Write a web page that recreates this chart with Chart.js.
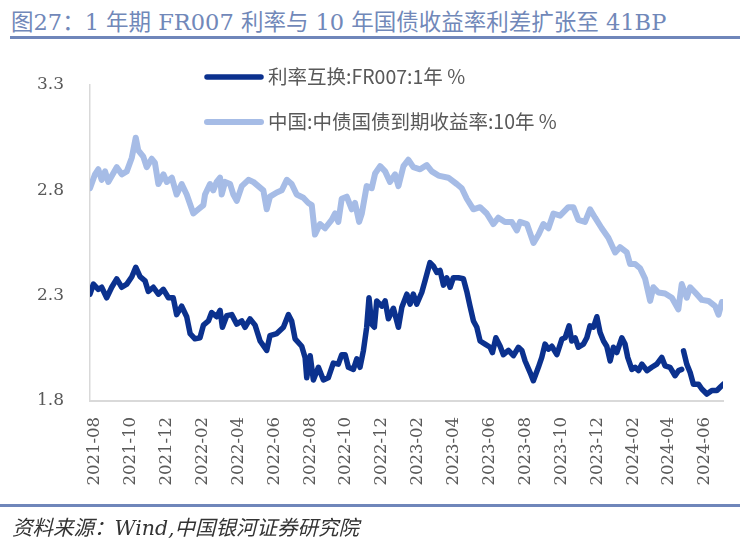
<!DOCTYPE html>
<html>
<head>
<meta charset="utf-8">
<style>
    body { margin: 0; background: #fff; }
    #page { position: relative; width: 753px; height: 544px; overflow: hidden; }
    #title {
        position: absolute; left: 11px; top: 4px;
        font: 22.5px "DejaVu Serif", "Noto Sans CJK SC", serif;
        color: #7188b9; white-space: nowrap;
    }
    .bar { position: absolute; height: 3px; background: #6f86ba; }
    #source {
        position: absolute; left: 12px; top: 511px;
        font: italic 20.5px "DejaVu Serif", "Noto Sans CJK SC", serif;
        color: #333; white-space: nowrap;
    }
    #wrap { position: absolute; left: 0; top: 0; width: 753px; height: 544px; }
</style>
</head>
<body>
<div id="page">
    <div id="title">图27：1 年期 FR007 利率与 10 年国债收益率利差扩张至 41BP</div>
    <div class="bar" style="left:10px; top:36px; width:730px;"></div>
    <div id="wrap"><canvas id="chart"></canvas></div>
    <div class="bar" style="left:0; top:504px; width:740px;"></div>
    <div id="source">资料来源：Wind,中国银河证券研究院</div>
</div>

<script src="https://cdn.jsdelivr.net/npm/chart.js@4"></script>
<script>

    // x values are months counted from 2021-08-01
    const tickMonths = [0, 2, 4, 6, 8, 10, 12, 14, 16, 18, 20, 22, 24, 26, 28, 30, 32, 34];
    const tickLabels = ['2021-08', '2021-10', '2021-12', '2022-02', '2022-04', '2022-06',
        '2022-08', '2022-10', '2022-12', '2023-02', '2023-04', '2023-06',
        '2023-08', '2023-10', '2023-12', '2024-02', '2024-04', '2024-06'];

    const seriesNames = ['利率互换:FR007:1年 %', '中国:中债国债到期收益率:10年 %'];

    const fr007Months = [
        -0.28, -0.09, 0.18, 0.37, 0.65, 0.93, 1.21, 1.49, 1.77, 2.05, 2.27, 2.51, 2.79, 2.97, 3.25, 3.53,
        3.81, 4.09, 4.36, 4.55, 4.83, 5.11, 5.30, 5.57, 5.85, 6.04, 6.32, 6.50, 6.78, 6.97, 7.10, 7.34,
        7.62, 7.90, 8.18, 8.36, 8.64, 8.92, 9.20, 9.57, 9.75, 10.13, 10.50, 10.78, 10.96, 11.15, 11.52, 11.71,
        11.80, 11.99, 12.17, 12.45, 12.73, 13.00, 13.28, 13.56, 13.75, 13.94, 14.12, 14.40, 14.59, 14.77, 14.96, 15.14,
        15.27, 15.42, 15.57, 15.70, 15.98, 16.17, 16.35, 16.63, 16.91, 17.10, 17.38, 17.56, 17.74, 17.93, 18.21, 18.39,
        18.67, 18.86, 19.05, 19.23, 19.42, 19.60, 19.79, 19.97, 20.25, 20.53, 20.72, 20.90, 21.09, 21.28, 21.46, 21.74,
        22.02, 22.15, 22.34, 22.58, 22.76, 23.04, 23.32, 23.60, 23.79, 23.97, 24.25, 24.43, 24.71, 24.90, 25.08, 25.27,
        25.46, 25.74, 26.02, 26.20, 26.42, 26.57, 26.76, 26.94, 27.22, 27.41, 27.59, 27.78, 27.97, 28.15, 28.34, 28.52,
        28.71, 28.89, 29.08, 29.36, 29.54, 29.69, 29.92, 30.10, 30.29, 30.48, 30.76, 31.03, 31.31, 31.59, 31.77, 32.05,
        32.33, 32.52, 32.70, 32.75, 32.80, 32.98, 33.17, 33.35, 33.63, 33.82, 34.10, 34.38, 34.66, 34.84, 35.02];
    const fr007Values = [
        2.307, 2.355, 2.33, 2.34, 2.29, 2.34, 2.38, 2.34, 2.355, 2.39, 2.435, 2.39, 2.37, 2.32, 2.34, 2.307,
        2.33, 2.29, 2.29, 2.21, 2.25, 2.20, 2.12, 2.095, 2.10, 2.16, 2.18, 2.22, 2.20, 2.23, 2.15, 2.205,
        2.21, 2.165, 2.18, 2.15, 2.19, 2.16, 2.085, 2.04, 2.11, 2.12, 2.15, 2.21, 2.18, 2.095, 2.06, 2.005,
        1.91, 2.015, 1.90, 1.96, 1.90, 1.91, 1.98, 1.975, 2.02, 2.02, 1.96, 1.95, 2.00, 1.96, 2.04, 2.15,
        2.29, 2.165, 2.15, 2.275, 2.25, 2.275, 2.19, 2.24, 2.15, 2.245, 2.307, 2.26, 2.307, 2.26, 2.315, 2.37,
        2.457, 2.44, 2.41, 2.42, 2.35, 2.385, 2.34, 2.385, 2.385, 2.38, 2.32, 2.25, 2.18, 2.15, 2.085, 2.07,
        2.055, 2.03, 2.10, 2.06, 2.02, 2.04, 2.015, 2.055, 2.04, 1.99, 1.935, 1.896, 1.96, 2.007, 2.07, 2.046,
        2.06, 2.02, 2.094, 2.10, 2.157, 2.085, 2.10, 2.055, 2.07, 2.10, 2.157, 2.15, 2.20, 2.125, 2.085, 2.06,
        1.99, 2.055, 2.03, 2.10, 2.07, 2.007, 1.95, 1.96, 1.944, 1.975, 1.944, 1.96, 1.975, 2.007, 1.967, 1.96,
        1.92, 1.944, 1.95, null, 2.038, 1.975, 1.935, 1.88, 1.88, 1.857, 1.833, 1.85, 1.85, 1.865, 1.88];

    const cgb10yMonths = [
        -0.28, 0, 0.18, 0.37, 0.56, 0.74, 1.21, 1.49, 1.77, 2.05, 2.27, 2.41, 2.69, 2.88, 3.16, 3.34,
        3.53, 3.81, 4.00, 4.28, 4.55, 4.83, 5.11, 5.48, 5.76, 6.04, 6.13, 6.41, 6.59, 6.78, 6.97, 7.06,
        7.25, 7.53, 7.71, 7.90, 8.18, 8.55, 8.82, 9.10, 9.38, 9.57, 9.75, 10.13, 10.41, 10.69, 10.96, 11.24,
        11.61, 11.89, 12.08, 12.26, 12.54, 12.82, 13.19, 13.38, 13.56, 13.75, 14.03, 14.31, 14.49, 14.72, 14.87, 15.14,
        15.42, 15.61, 15.89, 16.17, 16.44, 16.72, 16.91, 17.19, 17.46, 17.74, 18.12, 18.49, 18.77, 19.14, 19.69, 20.16,
        20.44, 20.72, 21.09, 21.46, 21.83, 22.20, 22.48, 22.85, 23.23, 23.51, 23.69, 24.07, 24.44, 24.72, 24.99, 25.27,
        25.55, 25.92, 26.38, 26.66, 26.94, 27.31, 27.59, 27.87, 28.24, 28.61, 28.99, 29.26, 29.64, 29.82, 30.10, 30.38,
        30.66, 30.94, 31.12, 31.40, 31.77, 32.15, 32.51, 32.70, 32.98, 33.17, 33.45, 33.82, 34.19, 34.56, 34.75, 34.94];
    const cgb10yValues = [
        2.81, 2.876, 2.90, 2.85, 2.89, 2.84, 2.91, 2.876, 2.89, 2.955, 3.05, 2.99, 2.96, 2.91, 2.95, 2.93,
        2.83, 2.876, 2.84, 2.86, 2.78, 2.83, 2.78, 2.69, 2.71, 2.73, 2.78, 2.83, 2.80, 2.84, 2.86, 2.78,
        2.84, 2.83, 2.78, 2.75, 2.82, 2.85, 2.84, 2.82, 2.80, 2.71, 2.77, 2.79, 2.80, 2.85, 2.83, 2.78,
        2.765, 2.74, 2.73, 2.59, 2.64, 2.62, 2.66, 2.69, 2.65, 2.76, 2.77, 2.71, 2.74, 2.65, 2.69, 2.82,
        2.81, 2.88, 2.915, 2.89, 2.84, 2.876, 2.82, 2.915, 2.945, 2.91, 2.90, 2.92, 2.89, 2.87, 2.86, 2.83,
        2.81, 2.76, 2.71, 2.72, 2.69, 2.64, 2.67, 2.65, 2.65, 2.61, 2.65, 2.64, 2.55, 2.59, 2.64, 2.62,
        2.69, 2.68, 2.72, 2.72, 2.66, 2.65, 2.71, 2.67, 2.62, 2.575, 2.505, 2.53, 2.505, 2.45, 2.45, 2.43,
        2.38, 2.275, 2.34, 2.315, 2.31, 2.29, 2.235, 2.355, 2.29, 2.34, 2.315, 2.28, 2.275, 2.25, 2.21, 2.27];

    const darkBlue = '#0b318e';
    const lightBlue = '#a6bce6';
    const axisGray = '#d9d9d9';
    const textGray = '#595959';

    function toPoints(months, values) {
        return months.map((m, i) => ({x: m, y: values[i]}));
    }

    // legend drawn inside the plot, two rows
    const insideLegend = {
        id: 'insideLegend',
        afterDraw(chart) {
            const ctx = chart.ctx;
            const rows = [77, 122];
            ctx.save();
            chart.data.datasets.forEach((ds, i) => {
                const y = rows[i];
                ctx.beginPath();
                ctx.lineCap = 'round';
                ctx.lineWidth = ds.borderWidth;
                ctx.strokeStyle = ds.borderColor;
                ctx.moveTo(207, y);
                ctx.lineTo(261, y);
                ctx.stroke();
                ctx.font = '19.5px "Noto Sans CJK SC", sans-serif';
                ctx.fillStyle = textGray;
                ctx.textBaseline = 'middle';
                ctx.fillText(ds.label, 268, y);
            });
            ctx.restore();
        }
    };

    new Chart(document.getElementById('chart'), {
        type: 'line',
        data: {
            datasets: [{
                label: seriesNames[0],
                data: toPoints(fr007Months, fr007Values),
                borderColor: darkBlue,
                borderWidth: 5.5,
                pointRadius: 0,
                borderJoinStyle: 'round',
                borderCapStyle: 'round',
                spanGaps: false
            }, {
                label: seriesNames[1],
                data: toPoints(cgb10yMonths, cgb10yValues),
                borderColor: lightBlue,
                borderWidth: 6,
                pointRadius: 0,
                borderJoinStyle: 'round',
                borderCapStyle: 'round'
            }]
        },
        options: {
            responsive: true,
            maintainAspectRatio: false,
            animation: false,
            layout: {padding: {top: 85, right: 30, left: 0, bottom: 0}},
            plugins: {legend: {display: false}, tooltip: {enabled: false}},
            scales: {
                x: {
                    type: 'linear',
                    min: -0.28,
                    max: 35.0,
                    afterBuildTicks(scale) {
                        scale.ticks = tickMonths.map(v => ({value: v}));
                    },
                    afterFit(scale) { scale.height = 143; },
                    grid: {display: false, drawTicks: false},
                    border: {color: axisGray, width: 2},
                    ticks: {
                        autoSkip: false,
                        maxRotation: 90,
                        minRotation: 90,
                        padding: 16,
                        color: textGray,
                        font: {family: '"DejaVu Serif", serif', size: 16.5},
                        callback: (v, i) => tickLabels[i]
                    }
                },
                y: {
                    min: 1.8,
                    max: 3.3,
                    afterFit(scale) { scale.width = 90; },
                    grid: {display: false, drawTicks: false},
                    border: {color: axisGray, width: 1.5},
                    ticks: {
                        stepSize: 0.5,
                        padding: 26,
                        color: textGray,
                        font: {family: '"DejaVu Serif", serif', size: 17},
                        callback: v => v.toFixed(1)
                    }
                }
            }
        },
        plugins: [insideLegend]
    });

</script>
</body>
</html>
